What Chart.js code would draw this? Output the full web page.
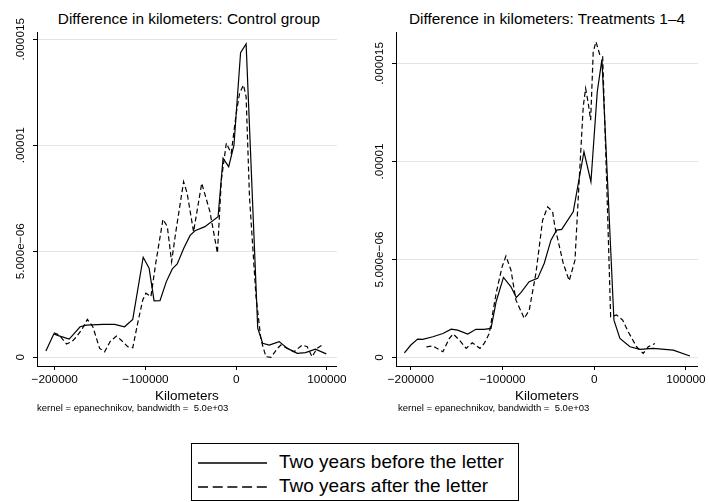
<!DOCTYPE html>
<html>
<head>
<meta charset="utf-8">
<script src="https://cdn.jsdelivr.net/npm/chart.js@4/dist/chart.umd.min.js"></script>
<style>
  html, body { margin: 0; padding: 0; background: #fff; }
  body { width: 709px; height: 502px; position: relative; overflow: hidden;
         font-family: "Liberation Sans", Arial, sans-serif; color: #000; }
  .panel { position: absolute; top: 0; }
  .ttl { position: absolute; top: 10px; font-size: 15.4px; white-space: nowrap; transform: translateX(-50%); }
  .note { position: absolute; top: 402px; font-size: 9.5px; white-space: pre; }
  #legend { position: absolute; left: 191px; top: 443px; width: 328px; height: 58px;
            border: 1px solid #000; box-sizing: border-box; }
  #legend .row { position: absolute; left: 6px; height: 22px; font-size: 19px; line-height: 22px; white-space: nowrap; }
  #legend svg { vertical-align: middle; margin-right: 12px; }
</style>
</head>
<body>

<div class="ttl" style="left:189px">Difference in kilometers: Control group</div>
<div class="ttl" style="left:547px">Difference in kilometers: Treatments 1–4</div>

<div class="panel" style="left:0px"><canvas id="left" width="350" height="404"></canvas></div>
<div class="panel" style="left:359px"><canvas id="right" width="350" height="404"></canvas></div>

<div class="note" style="left:37px">kernel = epanechnikov, bandwidth =  5.0e+03</div>
<div class="note" style="left:398px">kernel = epanechnikov, bandwidth =  5.0e+03</div>

<div id="legend">
  <div class="row" style="top:7px"><svg width="69" height="4"><line x1="0" y1="2" x2="69" y2="2" stroke="#000" stroke-width="1.5"/></svg>Two years before the letter</div>
  <div class="row" style="top:31px"><svg width="69" height="4"><line x1="0" y1="2" x2="69" y2="2" stroke="#000" stroke-width="1.5" stroke-dasharray="10,4.7"/></svg>Two years after the letter</div>
</div>

<script>
// kernel density estimates, y in units of 1e-6
const ctrlBeforeX = [-209700, -201000, -196000, -184000, -172000, -165000, -147000, -134000, -123000, -114000,
  -102500, -96000, -90500, -84000, -77000, -70400, -65000, -57800, -50800, -45400, -34500, -20000, -14500,
  -8300, -2500, 4800, 10900, 23700, 29100, 36400, 47300, 56400, 67300, 76300, 87200, 99200];
const ctrlBeforeY = [0.30, 1.10, 1.02, 0.86, 1.44, 1.52, 1.55, 1.55, 1.44, 1.79,
  4.72, 4.20, 2.66, 2.67, 3.57, 4.17, 4.40, 5.14, 5.75, 5.97, 6.16, 6.63, 9.39,
  8.99, 10.0, 14.37, 14.78, 1.37, 0.66, 0.58, 0.74, 0.42, 0.19, 0.22, 0.38, 0.16];

const ctrlAfterX = [-201000, -195000, -187000, -181000, -176000, -170000, -164000, -158000, -150500, -145000,
  -139000, -132000, -127000, -119500, -114000, -108600, -103000, -99600, -94000, -88700, -80700, -75900,
  -71200, -66800, -58000, -54100, -47000, -38000, -29000, -20700, -16400, -10900, -5500, 0, 3700, 8000,
  10900, 14600, 21800, 27300, 32700, 38200, 45500, 49100, 56400, 63700, 72700, 78200, 83600, 89000, 96400];
const ctrlAfterY = [1.16, 1.05, 0.63, 0.74, 0.97, 1.32, 1.79, 1.44, 0.42, 0.26,
  0.74, 1.00, 0.82, 0.50, 0.45, 1.60, 2.70, 3.02, 2.86, 4.43, 6.51, 6.16,
  4.51, 5.85, 8.28, 7.74, 5.92, 8.21, 6.87, 4.91, 8.36, 10.1, 9.62, 11.5, 12.45, 12.84,
  12.29, 7.58, 2.86, 0.82, 0.03, 0.0, 0.42, 0.58, 0.42, 0.26, 0.58, 0.50, 0.03, 0.42, 0.63];

const treatBeforeX = [-207000, -200000, -192600, -187000, -176000, -165000, -156000, -149000, -138000, -129000,
  -120000, -112600, -107000, -99000, -90800, -85000, -80000, -71000, -61700, -54500, -47200, -41000, -35500,
  -22900, -11200, -3600, 3300, 8400, 21500, 28000, 39000, 49800, 64300, 86200, 104400];
const treatBeforeY = [0.23, 0.63, 0.93, 0.92, 1.05, 1.22, 1.44, 1.39, 1.19, 1.43,
  1.43, 1.48, 2.84, 4.08, 3.60, 3.06, 3.30, 3.86, 4.03, 4.80, 5.98, 6.49, 6.53,
  7.43, 10.49, 8.96, 13.55, 15.2, 1.90, 0.97, 0.54, 0.41, 0.46, 0.37, 0.07];

const treatAfterX = [-183000, -176000, -165000, -158000, -153800, -147000, -139700, -133000, -124600, -120000,
  -114500, -107000, -100500, -96300, -90800, -85400, -76300, -70900, -63600, -56300, -50800, -45400, -42900,
  -33800, -27300, -21000, -16400, -12000, -9400, -6500, -3900, -1100, 1900, 6200, 9200, 13500, 17900,
  24400, 31000, 37000, 46200, 53400, 58900, 66200];
const treatAfterY = [0.54, 0.58, 0.29, 0.97, 1.19, 0.88, 0.46, 0.74, 0.46, 0.71,
  1.22, 3.27, 4.62, 5.17, 4.45, 2.92, 1.99, 2.41, 4.29, 7.00, 7.68, 7.43, 6.66,
  4.80, 3.91, 4.96, 9.05, 12.79, 13.72, 12.96, 12.10, 15.59, 16.10, 15.42, 15.34, 9.05, 2.07,
  2.16, 1.90, 1.31, 0.54, 0.20, 0.54, 0.71];

const xTickValues = [-200000, -100000, 0, 100000];
const xTickLabels = ['−200000', '−100000', '0', '100000'];
const yTickValues = [0, 5, 10, 15];
const yTickLabels = ['0', '5.000e−06', '.00001', '.000015'];

const FONT = '"Liberation Sans", Arial, sans-serif';
Chart.defaults.font.family = FONT;
Chart.defaults.font.size = 11.8;
Chart.defaults.color = '#000';

function pts(xs, ys) {
  return xs.map((x, i) => ({x: x, y: ys[i]}));
}

// y labels are drawn standing up, Stata style
const uprightYLabels = {
  id: 'uprightYLabels',
  afterDraw(chart) {
    const s = chart.scales.y;
    const ctx = chart.ctx;
    ctx.save();
    ctx.font = '11.8px ' + FONT;
    ctx.fillStyle = '#000';
    ctx.textAlign = 'center';
    ctx.textBaseline = 'middle';
    yTickValues.forEach((v, i) => {
      ctx.save();
      ctx.translate(s.right - 16, s.getPixelForValue(v));
      ctx.rotate(-Math.PI / 2);
      ctx.fillText(yTickLabels[i], 0, 0);
      ctx.restore();
    });
    ctx.restore();
  }
};

function makePanel(id, before, after, xr, yr) {
  new Chart(document.getElementById(id), {
    type: 'line',
    data: {
      datasets: [{
        label: 'Two years before the letter',
        data: before,
        borderColor: '#000',
        borderWidth: 1.2,
        pointRadius: 0,
        tension: 0
      }, {
        label: 'Two years after the letter',
        data: after,
        borderColor: '#000',
        borderWidth: 1.2,
        borderDash: [5, 3],
        pointRadius: 0,
        tension: 0
      }]
    },
    options: {
      responsive: false,
      animation: false,
      events: [],
      layout: { padding: { top: 32, right: 10, left: 0, bottom: 0 } },
      plugins: { legend: { display: false }, tooltip: { enabled: false } },
      scales: {
        x: {
          type: 'linear',
          min: xr[0], max: xr[1],
          afterBuildTicks: s => { s.ticks = xTickValues.map(v => ({value: v})); },
          afterFit: s => { s.height = 38; },
          ticks: {
            autoSkip: false, maxRotation: 0, padding: 3,
            callback: (v) => xTickLabels[xTickValues.indexOf(v)]
          },
          grid: { drawOnChartArea: false, tickLength: 4, tickColor: '#000' },
          border: { color: '#000', width: 1 },
          title: { display: true, text: 'Kilometers', font: { size: 13.5 }, padding: 0 }
        },
        y: {
          min: yr[0], max: yr[1],
          afterBuildTicks: s => { s.ticks = yTickValues.map(v => ({value: v})); },
          afterFit: s => { s.width = 37; },
          ticks: { display: false },
          grid: { color: '#e3e3e3', lineWidth: 1, tickLength: 4, tickColor: '#000' },
          border: { color: '#000', width: 1 }
        }
      }
    },
    plugins: [uprightYLabels]
  });
}

makePanel('left', pts(ctrlBeforeX, ctrlBeforeY), pts(ctrlAfterX, ctrlAfterY), [-219500, 110900], [-0.41, 15.34]);
makePanel('right', pts(treatBeforeX, treatBeforeY), pts(treatAfterX, treatAfterY), [-216200, 113000], [-0.44, 16.6]);
</script>
</body>
</html>
